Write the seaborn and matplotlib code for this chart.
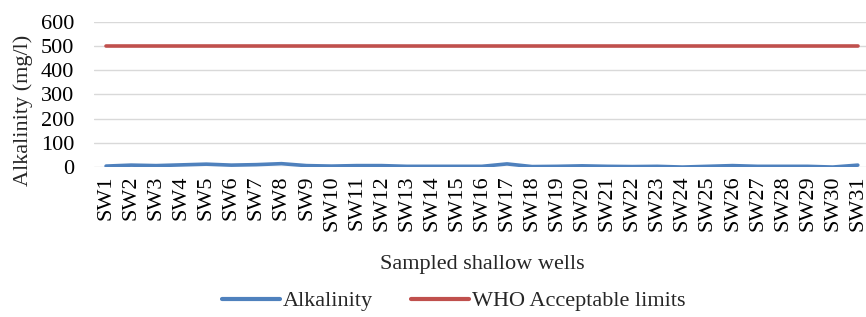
import numpy as np
import pandas as pd
import matplotlib
matplotlib.use("Agg")
import matplotlib.pyplot as plt
import seaborn as sns

# --- Data ---
wells = [f"SW{i}" for i in range(1, 32)]
alkalinity = [4, 8, 6, 9, 12, 8, 10, 14, 6, 4, 6, 6, 3, 3, 3, 3, 13, 2, 3, 5,
              3, 2, 3, 0, 3, 6, 3, 3, 3, 0, 8]
who_limit = [500] * 31

df = pd.DataFrame({"Well": wells, "Alkalinity": alkalinity, "WHO Acceptable limits": who_limit})
long_df = df.melt(id_vars="Well", var_name="Series", value_name="Value")

# --- Style ---
sns.set_style("white")
plt.rcParams["font.family"] = ["Liberation Serif", "DejaVu Serif"]
FS = 16

fig = plt.figure(figsize=(8.66, 3.17), dpi=100)
ax = fig.add_axes([0.108, 0.473, 0.897, 0.458])

sns.lineplot(data=long_df, x="Well", y="Value", hue="Series",
             palette=["#4F81BD", "#C0504D"], linewidth=2.6, sort=False, ax=ax)

ax.set_xlim(-0.5, 30.5)
ax.set_ylim(0, 600)
ax.set_yticks(range(0, 601, 100))
ax.grid(True, axis="y", color="#D9D9D9", linewidth=1)
ax.set_axisbelow(True)
for s in ax.spines.values():
    s.set_visible(False)
ax.tick_params(axis="both", length=0, labelsize=FS, colors="black")
ax.tick_params(axis="y", pad=14)
ax.tick_params(axis="x", pad=6)
plt.setp(ax.get_xticklabels(), rotation=90)

ax.set_ylabel("Alkalinity (mg/l)", fontsize=FS)
ax.yaxis.set_label_coords(-0.078, 0.39)
ax.set_xlabel("Sampled shallow wells", fontsize=FS, labelpad=17)

ax.get_legend().remove()
handles, labels = ax.get_legend_handles_labels()
leg = fig.legend(handles, labels, loc="center", bbox_to_anchor=(0.524, 0.05), ncol=2,
                 frameon=False, fontsize=FS, handlelength=2.6, handletextpad=0.15,
                 columnspacing=1.7)
for line in leg.get_lines():
    line.set_linewidth(3)

fig.savefig("out.png", dpi=100)
